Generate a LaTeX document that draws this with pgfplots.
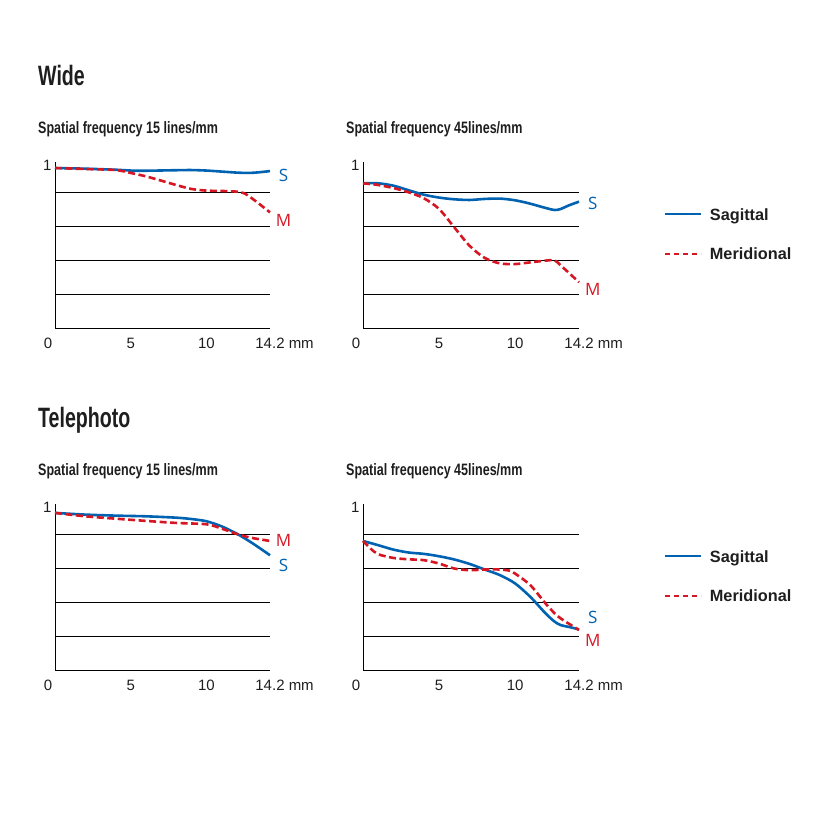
\documentclass[border=0pt]{standalone}
\usepackage{fontspec}
\setmainfont{Liberation Sans}
\newfontfamily\condfont{Liberation Sans}[FakeStretch=0.7]
\newfontfamily\subfont{Liberation Sans}[FakeStretch=0.76]
\newfontfamily\labfont{Open Sans}
\usepackage{pgfplots}
\pgfplotsset{compat=1.18}
\definecolor{sblue}{RGB}{0,98,176}
\definecolor{mred}{RGB}{214,22,34}
\definecolor{txt}{RGB}{30,30,30}

\pgfplotstableread{
x y
0 0.943
2 0.939
4 0.933
5 0.928
6 0.927
8 0.930
9 0.931
10 0.928
11 0.922
12 0.916
12.8 0.914
13.5 0.918
14.2 0.925
}\wideAS
\pgfplotstableread{
x y
0 0.943
2 0.937
4 0.931
5 0.914
6 0.894
7 0.869
8 0.843
9 0.820
10 0.810
11 0.808
12 0.804
12.5 0.794
13 0.765
13.5 0.731
14.2 0.682
}\wideAM
\pgfplotstableread{
x y
0 0.853
1 0.853
2 0.839
3 0.812
4 0.786
5 0.769
6 0.759
7 0.755
8 0.761
9 0.763
10 0.753
11 0.733
12 0.708
12.6 0.696
13 0.702
13.5 0.722
14.2 0.745
}\wideBS
\pgfplotstableread{
x y
0 0.853
1 0.843
2 0.825
3 0.800
4 0.765
5 0.702
6 0.594
7 0.486
8 0.414
9 0.382
10 0.378
11 0.388
12 0.398
12.6 0.400
13 0.369
13.5 0.329
14.2 0.271
}\wideBM
\pgfplotstableread{
x y
0 0.926
2 0.916
4 0.910
6 0.906
8 0.898
9 0.890
10 0.877
11 0.847
12 0.804
13 0.750
14.2 0.677
}\teleAS
\pgfplotstableread{
x y
0 0.926
2 0.906
4 0.892
6 0.879
8 0.867
10 0.859
11 0.834
12 0.802
13 0.779
14.2 0.761
}\teleAM
\pgfplotstableread{
x y
0 0.761
1 0.736
2 0.710
3 0.693
4 0.685
5 0.671
6 0.652
7 0.626
8 0.593
9 0.560
10 0.511
11 0.432
12 0.335
12.6 0.286
13 0.266
13.5 0.256
14.2 0.241
}\teleBS
\pgfplotstableread{
x y
0 0.761
0.5 0.716
1 0.683
2 0.661
3 0.653
4 0.648
5 0.628
6 0.599
7 0.589
8 0.593
9 0.593
9.7 0.585
10 0.569
11 0.501
12 0.393
12.6 0.335
13 0.305
13.5 0.276
14.2 0.237
}\teleBM

\tikzset{lab/.style={font=\labfont\fontsize{17bp}{19bp}\selectfont}}
\pgfplotsset{
  mtf/.style={
    scale only axis, width=215bp, height=166.6bp,
    xmin=0, xmax=14.2, ymin=0, ymax=0.98,
    axis x line=bottom, axis y line=left,
    axis line style={-, line width=0.9bp, black},
    clip=false,
    major tick length=0pt,
    /pgf/number format/assume math mode=true,
    xtick={5,10,14.2}, xticklabels={5,10,{14.2\rlap{ mm}}},
    extra x ticks={0}, extra x tick labels={0},
    extra x tick style={xticklabel style={xshift=-7bp}},
    xticklabel style={font=\fontsize{15bp}{17bp}\selectfont, text=txt, yshift=-6bp},
    ytick={0.2,0.4,0.6,0.8}, yticklabels={},
    ymajorgrids, major grid style={black, line width=0.8bp},
    extra y ticks={0.96}, extra y tick labels={1},
    extra y tick style={grid=none, yticklabel style={font=\fontsize{15bp}{17bp}\selectfont, text=txt}},
  },
  sline/.style={sblue, line width=2.6bp, smooth},
  mline/.style={mred, line width=2.6bp, smooth, dash pattern=on 7bp off 3.5bp},
  leg/.style={legend style={draw=none, fill=none, inner sep=0pt,
      at={(rel axis cs:1.392,0.722)}, anchor=north west,
      font=\bfseries\fontsize{16.3bp}{18bp}\selectfont, text=txt,
      row sep=28bp, column sep=8bp,
      nodes={inner sep=0pt, text depth=0pt}},
    legend cell align=left,
    legend image code/.code={\draw[##1, line width=2bp, dash pattern=on 5.5bp off 3.5bp] (0bp,0bp) -- (36bp,0bp);}},
  legS/.style={legend image code/.code={\draw[sblue, line width=2bp] (0bp,0bp) -- (36bp,0bp);}},
}

\begin{document}
\begin{tikzpicture}[x=1bp,y=1bp]
\useasboundingbox (0,0) rectangle (825,-825);

\node[anchor=base west, inner sep=0pt, text=txt] at (38,-85) {\condfont\bfseries\fontsize{28bp}{30bp}\selectfont Wide};
\node[anchor=base west, inner sep=0pt, text=txt] at (38,-133.3) {\subfont\bfseries\fontsize{16.5bp}{18bp}\selectfont Spatial frequency 15 lines/mm};
\node[anchor=base west, inner sep=0pt, text=txt] at (346,-133.3) {\subfont\bfseries\fontsize{16.5bp}{18bp}\selectfont Spatial frequency 45lines/mm};
\node[anchor=base west, inner sep=0pt, text=txt] at (38,-427) {\condfont\bfseries\fontsize{28bp}{30bp}\selectfont Telephoto};
\node[anchor=base west, inner sep=0pt, text=txt] at (38,-475.3) {\subfont\bfseries\fontsize{16.5bp}{18bp}\selectfont Spatial frequency 15 lines/mm};
\node[anchor=base west, inner sep=0pt, text=txt] at (346,-475.3) {\subfont\bfseries\fontsize{16.5bp}{18bp}\selectfont Spatial frequency 45lines/mm};

\begin{axis}[mtf, at={(55bp,-328.3bp)}, anchor=south west]
\addplot[sline] table {\wideAS};
\addplot[mline] table {\wideAM};
\node[lab, text=sblue] at (axis cs:15.1,0.902) {S};
\node[lab, text=mred] at (axis cs:15.1,0.637) {M};
\end{axis}

\begin{axis}[mtf, leg, width=216bp, at={(363bp,-328.3bp)}, anchor=south west]
\addplot[sline, forget plot] table {\wideBS};
\addplot[mline, forget plot] table {\wideBM};
\addlegendimage{legS}
\addlegendentry{Sagittal}
\addlegendimage{mred}
\addlegendentry{Meridional}
\node[lab, text=sblue] at (axis cs:15.1,0.735) {S};
\node[lab, text=mred] at (axis cs:15.1,0.229) {M};
\end{axis}

\begin{axis}[mtf, at={(55bp,-670.3bp)}, anchor=south west]
\addplot[sline] table {\teleAS};
\addplot[mline] table {\teleAM};
\node[lab, text=mred] at (axis cs:15.1,0.762) {M};
\node[lab, text=sblue] at (axis cs:15.1,0.619) {S};
\end{axis}

\begin{axis}[mtf, leg, width=216bp, at={(363bp,-670.3bp)}, anchor=south west]
\addplot[sline, forget plot] table {\teleBS};
\addplot[mline, forget plot] table {\teleBM};
\addlegendimage{legS}
\addlegendentry{Sagittal}
\addlegendimage{mred}
\addlegendentry{Meridional}
\node[lab, text=sblue] at (axis cs:15.1,0.312) {S};
\node[lab, text=mred] at (axis cs:15.1,0.178) {M};
\end{axis}
\end{tikzpicture}
\end{document}
